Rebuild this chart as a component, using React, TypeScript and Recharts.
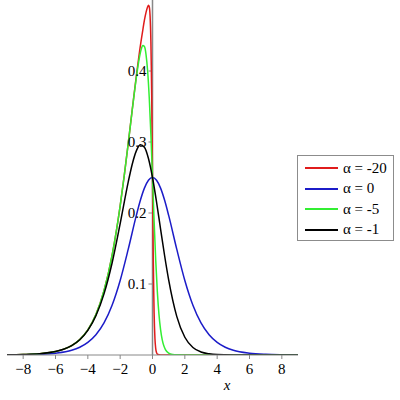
import {
  LineChart,
  Line,
  XAxis,
  YAxis,
  ReferenceLine,
  ReferenceDot,
} from 'recharts'

const SERIF = 'Liberation Serif'

const X_TICKS = [-8, -6, -4, -2, 0, 2, 4, 6, 8]
const Y_TICKS = [0.1, 0.2, 0.3, 0.4]

// alpha = -20
const RED_X = [-9, -8, -7, -6, -5, -4.5, -4, -3.5, -3, -2.5, -2, -1.75, -1.5, -1.25, -1, -0.8, -0.6, -0.5, -0.4, -0.3, -0.25, -0.2, -0.15, -0.1, -0.075, -0.05, -0.025, 0, 0.025, 0.05, 0.075, 0.1, 0.15, 0.2, 0.25, 0.3, 0.4, 0.5, 9]
const RED_Y = [0.0002, 0.0007, 0.0018, 0.0049, 0.0133, 0.0217, 0.0353, 0.0569, 0.0904, 0.1402, 0.21, 0.2523, 0.2983, 0.3462, 0.3932, 0.4278, 0.4576, 0.4715, 0.4825, 0.4905, 0.4925, 0.4905, 0.4776, 0.4413, 0.4082, 0.3653, 0.3112, 0.25, 0.1887, 0.1344, 0.0911, 0.0595, 0.0236, 0.0089, 0.0033, 0.0012, 0.0002, 0, 0]

// alpha = 0
const BLUE_X = [-9, -8, -7, -6, -5, -4.5, -4, -3.5, -3, -2.5, -2, -1.5, -1, -0.75, -0.5, -0.25, 0, 0.25, 0.5, 0.75, 1, 1.5, 2, 2.5, 3, 3.5, 4, 4.5, 5, 6, 7, 8, 9]
const BLUE_Y = [0.0001, 0.0003, 0.0009, 0.0025, 0.0066, 0.0109, 0.0177, 0.0285, 0.0452, 0.0701, 0.105, 0.1491, 0.1966, 0.2179, 0.235, 0.2461, 0.25, 0.2461, 0.235, 0.2179, 0.1966, 0.1491, 0.105, 0.0701, 0.0452, 0.0285, 0.0177, 0.0109, 0.0066, 0.0025, 0.0009, 0.0003, 0.0001]

// alpha = -5
const GREEN_X = [-9, -8, -7, -6, -5, -4.5, -4, -3.5, -3, -2.5, -2, -1.75, -1.5, -1.25, -1, -0.9, -0.8, -0.7, -0.6, -0.5, -0.4, -0.3, -0.2, -0.1, 0, 0.1, 0.2, 0.3, 0.4, 0.5, 0.6, 0.7, 0.8, 1, 1.25, 1.5, 2, 9]
const GREEN_Y = [0.0002, 0.0007, 0.0018, 0.0049, 0.0133, 0.0217, 0.0353, 0.0569, 0.0904, 0.1402, 0.21, 0.2522, 0.2981, 0.3455, 0.3906, 0.4065, 0.4201, 0.4304, 0.4359, 0.4344, 0.4232, 0.3997, 0.3619, 0.3105, 0.25, 0.1883, 0.1331, 0.0892, 0.0573, 0.0357, 0.0217, 0.013, 0.0077, 0.0026, 0.0007, 0.0002, 0, 0]

// alpha = -1
const BLACK_X = [-9, -8, -7, -6, -5.5, -5, -4.5, -4, -3.5, -3, -2.5, -2, -1.5, -1.25, -1, -0.75, -0.5, -0.25, 0, 0.25, 0.5, 0.75, 1, 1.5, 2, 2.5, 3, 3.5, 4, 5, 6, 9]
const BLACK_Y = [0.0002, 0.0007, 0.0018, 0.0049, 0.0081, 0.0132, 0.0215, 0.0347, 0.0552, 0.0861, 0.1296, 0.185, 0.2439, 0.2691, 0.2875, 0.296, 0.2926, 0.2767, 0.25, 0.2155, 0.1774, 0.1398, 0.1058, 0.0544, 0.025, 0.0106, 0.0043, 0.0017, 0.0006, 0.0001, 0, 0]

const toPoints = (xs: number[], ys: number[]) => xs.map((x, i) => ({ x, y: ys[i] }))

const SERIES = [
  { name: 'α = -20', color: '#e01c1c', data: toPoints(RED_X, RED_Y) },
  { name: 'α = 0', color: '#1c1cc8', data: toPoints(BLUE_X, BLUE_Y) },
  { name: 'α = -5', color: '#33ee33', data: toPoints(GREEN_X, GREEN_Y) },
  { name: 'α = -1', color: '#000000', data: toPoints(BLACK_X, BLACK_Y) },
]

function LegendBox() {
  return (
    <div
      style={{
        position: 'absolute',
        left: 297,
        top: 155,
        border: '1.5px solid #8c8c8c',
        width: 97,
        height: 86,
        boxSizing: 'border-box',
        padding: '2px 0 0 7px',
        fontFamily: SERIF,
        fontSize: 15,
        background: '#fff',
      }}
    >
      {SERIES.map((s) => (
        <div key={s.name} style={{ display: 'flex', alignItems: 'center', height: 20.5 }}>
          <div style={{ width: 33, height: 2, background: s.color, marginRight: 5 }} />
          <span>{s.name}</span>
        </div>
      ))}
    </div>
  )
}

export default function App() {
  return (
    <div style={{ position: 'absolute', left: 0, top: 0, width: 400, height: 400, background: '#fff', fontFamily: SERIF }}>
      <LineChart width={400} height={400} margin={{ top: 0, right: 102, left: 7, bottom: 15 }}>
        <XAxis
          dataKey="x"
          type="number"
          domain={[-9, 9]}
          ticks={X_TICKS}
          allowDataOverflow
          stroke="#888"
          tickSize={4}
          tickMargin={4}
          height={30}
          tick={{ fill: '#000', fontSize: 15, fontFamily: SERIF }}
          tickFormatter={(v: number) => String(v).replace('-', '−')}
          label={{
            content: () => (
              <text x={227} y={390} fontFamily={SERIF} fontStyle="italic" fontSize={15} textAnchor="middle">
                x
              </text>
            ),
          }}
        />
        <YAxis hide type="number" domain={[0, 0.5]} allowDataOverflow />
        <ReferenceLine x={0} stroke="#888" strokeWidth={1.5} />
        {Y_TICKS.map((t) => (
          <ReferenceLine
            key={'tk' + t}
            segment={[
              { x: -0.25, y: t },
              { x: 0, y: t },
            ]}
            stroke="#888"
          />
        ))}
        {Y_TICKS.map((t) => (
          <ReferenceDot
            key={'lb' + t}
            x={0}
            y={t}
            r={0}
            stroke="none"
            label={{ value: String(t), position: 'left', offset: 6, fill: '#000', fontSize: 15, fontFamily: SERIF }}
          />
        ))}
        {SERIES.map((s) => (
          <Line
            key={s.name}
            data={s.data}
            dataKey="y"
            name={s.name}
            type="monotone"
            stroke={s.color}
            strokeWidth={1.5}
            dot={false}
            isAnimationActive={false}
          />
        ))}
      </LineChart>
      <LegendBox />
    </div>
  )
}
